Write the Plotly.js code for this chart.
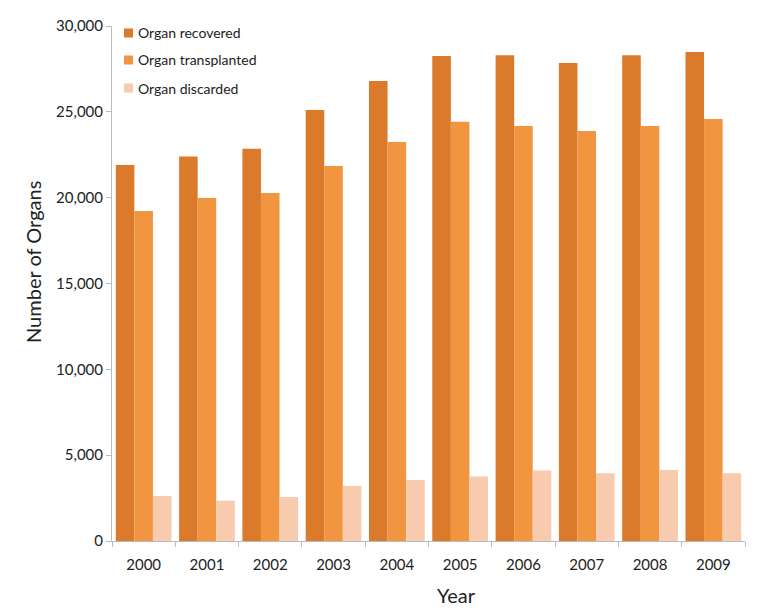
<!DOCTYPE html>
<html>
<head>
<meta charset="utf-8">
<script src="https://cdn.plot.ly/plotly-3.0.1.min.js"></script>
<style>html,body{margin:0;padding:0;background:#fff;}#chart{width:774px;height:612px;}</style>
</head>
<body>
<div id="chart"></div>
<script>
const years = ['2000','2001','2002','2003','2004','2005','2006','2007','2008','2009'];
const recovered = [21900, 22400, 22850, 25100, 26800, 28250, 28300, 27850, 28300, 28480];
const transplanted = [19220, 19980, 20270, 21850, 23250, 24420, 24180, 23880, 24180, 24580];
const discarded = [2620, 2350, 2560, 3200, 3560, 3760, 4100, 3940, 4130, 3950];
const yTicks = [0, 5000, 10000, 15000, 20000, 25000, 30000];
const seriesNames = ['Organ recovered', 'Organ transplanted', 'Organ discarded'];
const seriesColors = ['#DB7A2B', '#F29540', '#F8CAAE'];

const font = 'Lato, "Open Sans", sans-serif';
const W = 774, H = 612, M = {l:112, r:29, t:26, b:71};
const pw = W - M.l - M.r, ph = H - M.t - M.b;
const px = x => (x - M.l) / pw;          // pixel -> paper x
const py = y => (H - M.b - y) / ph;      // pixel -> paper y

const data = [recovered, transplanted, discarded].map((vals, i) => ({
  type:'bar', name:seriesNames[i], x:years, y:vals, marker:{color:seriesColors[i]}
}));

// custom legend (small squares close to text, like the original)
const legendY = [33, 60, 88];
const shapes = [], annotations = [];
seriesNames.forEach((n, i) => {
  shapes.push({type:'rect', xref:'paper', yref:'paper', line:{width:0}, fillcolor:seriesColors[i],
    x0:px(124), x1:px(133), y0:py(legendY[i] + 4.5), y1:py(legendY[i] - 4.5)});
  annotations.push({xref:'paper', yref:'paper', x:px(136), y:py(legendY[i]), xanchor:'left', yanchor:'middle',
    text:n, showarrow:false, font:{family:font, size:14, color:'#222'}});
});
annotations.push({xref:'paper', yref:'paper', x:px(456), y:py(595), xanchor:'center', yanchor:'middle',
  text:'Year', showarrow:false, font:{family:font, size:20, color:'#222'}});
annotations.push({xref:'paper', yref:'paper', x:px(33), y:py(262), xanchor:'center', yanchor:'middle',
  text:'Number of Organs', textangle:-90, showarrow:false, font:{family:font, size:20, color:'#222'}});

const layout = {
  width:W, height:H, margin:M,
  paper_bgcolor:'#fff', plot_bgcolor:'#fff',
  barmode:'group', bargap:0.12, bargroupgap:0,
  font:{family:font, color:'#333', size:13},
  showlegend:false,
  shapes:shapes, annotations:annotations,
  xaxis:{type:'category', showline:true, linecolor:'#bbb', linewidth:1,
         ticks:'outside', tickson:'boundaries', ticklen:5, tickcolor:'#bbb',
         ticklabelstandoff:10,
         tickfont:{family:font, size:15, color:'#222'}},
  yaxis:{range:[0,30000], tickvals:yTicks, tickformat:',d', showgrid:false, zeroline:false,
         showline:true, linecolor:'#bbb', linewidth:1, ticks:'outside', ticklen:5, tickcolor:'#bbb',
         tickfont:{family:font, size:15, color:'#222'}}
};
Plotly.newPlot('chart', data, layout, {displayModeBar:false, staticPlot:true});
</script>
</body>
</html>
